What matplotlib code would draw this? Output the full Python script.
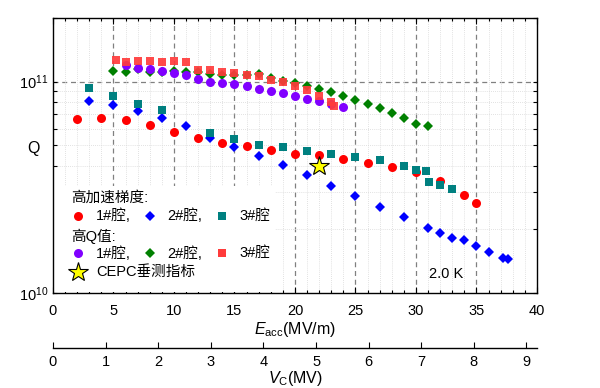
"""Q vs Eacc at 2.0 K for three cavities, high-gradient and high-Q treatments"""
import matplotlib
matplotlib.use("Agg")
import matplotlib.pyplot as plt
from matplotlib.patches import Rectangle
from matplotlib.ticker import MultipleLocator, LogLocator, NullFormatter, FixedLocator

plt.rcParams["font.family"] = ["Liberation Sans", "Noto Sans CJK SC"]
plt.rcParams["mathtext.fontset"] = "custom"
plt.rcParams["mathtext.rm"] = "Liberation Sans"
plt.rcParams["mathtext.it"] = "Liberation Sans:italic"

# high gradient treatment (Eacc in MV/m, Q in units of 1e10)
hg1_e = [2, 4, 6, 8, 10, 12, 14, 16, 18, 20, 22, 24, 26, 28, 30, 32, 34, 35]
hg1_q = [6.67, 6.76, 6.58, 6.25, 5.78, 5.42, 5.13, 4.94, 4.75, 4.57, 4.48, 4.31,
         4.14, 3.96, 3.73, 3.40, 2.90, 2.67]
hg2_e = [3, 5, 7, 9, 11, 13, 15, 17, 19, 21, 23, 25, 27, 29, 31, 32, 33, 34,
         35, 36, 37.2, 37.6]
hg2_q = [8.09, 7.76, 7.28, 6.71, 6.14, 5.41, 4.93, 4.43, 4.02, 3.61, 3.22, 2.87,
         2.55, 2.28, 2.04, 1.92, 1.82, 1.78, 1.67, 1.57, 1.47, 1.45]
hg3_e = [3, 5, 7, 9, 13, 15, 17, 19, 21, 23, 25, 27, 29, 30, 30.8, 31.1, 32, 33]
hg3_q = [9.31, 8.57, 7.86, 7.31, 5.74, 5.38, 5.02, 4.90, 4.69, 4.57, 4.38, 4.24,
         4.01, 3.82, 3.77, 3.35, 3.26, 3.10]

# high Q treatment
hq1_e = [6, 7, 8, 9, 10, 11, 12, 13, 14, 15, 16, 17, 18, 19, 20, 21, 22, 23, 24]
hq1_q = [12.0, 11.6, 11.5, 11.2, 11.0, 10.7, 10.3, 10.0, 9.9, 9.7, 9.5, 9.25,
         9.0, 8.85, 8.53, 8.29, 8.11, 7.80, 7.57]
hq2_e = [5, 6, 7, 8, 9, 10, 11, 12, 13, 14, 15, 16, 17, 18, 19, 20, 21, 22, 23,
         24, 25, 26, 27, 28, 29, 30, 31]
hq2_q = [11.2, 11.1, 11.5, 11.1, 11.1, 11.2, 11.1, 11.1, 10.9, 10.8, 10.7, 10.7,
         10.9, 10.4, 10.1, 9.86, 9.55, 9.25, 8.91, 8.59, 8.20, 7.85, 7.52, 7.08,
         6.71, 6.31, 6.19]
hq3_e = [5.2, 6, 7, 8, 9, 10, 11, 12, 13, 14, 15, 16, 17, 18, 19, 20, 21, 22, 23,
         23.25]
hq3_q = [12.7, 12.4, 12.5, 12.5, 12.4, 12.5, 12.4, 11.4, 11.3, 11.1, 11.0, 10.8,
         10.6, 10.2, 9.95, 9.56, 9.08, 8.57, 8.0, 7.63]

cepc_e = [22]
cepc_q = [4.0]

vc_ticks = [0, 1, 2, 3, 4, 5, 6, 7, 8, 9]
VC_PER_EACC = 0.23  # MV per MV/m

fig = plt.figure(figsize=(6, 3.88), dpi=100)
ax = fig.add_axes([0.0883, 0.2448, 0.8067, 0.7088])

sc = 1e10
ax.plot(hg1_e, [q * sc for q in hg1_q], "o", color="#ff0000", ms=6.5, mew=0, zorder=3)
ax.plot(hg2_e, [q * sc for q in hg2_q], "D", color="#0000ff", ms=5.2, mew=0, zorder=3)
ax.plot(hg3_e, [q * sc for q in hg3_q], "s", color="#008080", ms=6.0, mew=0, zorder=3)
ax.plot(hq2_e, [q * sc for q in hq2_q], "D", color="#008000", ms=5.2, mew=0, zorder=3)
ax.plot(hq1_e, [q * sc for q in hq1_q], "o", color="#8000ff", ms=6.5, mew=0, zorder=3)
ax.plot(hq3_e, [q * sc for q in hq3_q], "s", color="#ff3b3b", ms=6.0, mew=0,
        alpha=0.92, zorder=3)
ax.plot(cepc_e, [q * sc for q in cepc_q], "*", color="#ffff00", mec="black",
        mew=0.8, ms=15, zorder=4)

ax.set_yscale("log")
ax.set_xlim(0, 40)
ax.set_ylim(1e10, 2e11)

ax.xaxis.set_major_locator(MultipleLocator(5))
ax.xaxis.set_minor_locator(MultipleLocator(1))
ax.yaxis.set_major_locator(LogLocator(base=10))
ax.yaxis.set_minor_locator(LogLocator(base=10, subs=range(2, 10)))
ax.yaxis.set_minor_formatter(NullFormatter())
ax.tick_params(which="both", direction="in", top=True, right=True,
               labelsize=10.5, width=0.8)
ax.tick_params(axis="x", which="major", length=4, pad=8)
ax.tick_params(axis="x", which="minor", length=2.5)
ax.tick_params(axis="y", which="both", length=3)
for s in ax.spines.values():
    s.set_linewidth(1.0)

# grids: light dotted minor, dashed grey major
ax.grid(True, which="minor", ls=(0, (1, 1.5)), color="#d8d8d8", lw=0.6, zorder=0)
for xv in range(5, 40, 5):
    ax.axvline(xv, ls=(0, (4, 3)), color="#808080", lw=0.9, zorder=1)
ax.axhline(1e11, ls=(0, (4, 3)), color="#808080", lw=0.9, zorder=1)

ax.set_xlabel(r"$E_{\rm acc}$(MV/m)", fontsize=11.5, labelpad=1)
ax.set_ylabel("Q", fontsize=11.5, rotation=0)
ax.yaxis.set_label_coords(-0.04, 0.50)

ax.text(0.777, 0.069, "2.0 K", transform=ax.transAxes, fontsize=10.5,
        va="center", ha="left", zorder=5)

# legend block drawn by hand
ax.add_patch(Rectangle((0.003, 0.003), 0.455, 0.387, transform=ax.transAxes,
                       facecolor="white", edgecolor="none", zorder=2))
fs = 10.5
ax.text(0.0366, 0.3465, "高加速梯度:", transform=ax.transAxes, fontsize=fs,
        va="center", zorder=5)
ax.text(0.0366, 0.2073, "高Q值:", transform=ax.transAxes, fontsize=fs,
        va="center", zorder=5)
rows = [
    (0.2811, [("o", "#ff0000", 6.5), ("D", "#0000ff", 5.2), ("s", "#008080", 6.0)]),
    (0.1444, [("o", "#8000ff", 6.5), ("D", "#008000", 5.2), ("s", "#ff3b3b", 6.0)]),
]
labels = ["1#腔,", "2#腔,", "3#腔"]
mx = [0.0523, 0.2004, 0.3486]
tx = [0.0888, 0.2362, 0.3849]
for yy, marks in rows:
    for (m, c, ms), x0, x1, lab in zip(marks, mx, tx, labels):
        ax.plot([x0], [yy], m, color=c, ms=ms, mew=0, transform=ax.transAxes,
                clip_on=False, zorder=5)
        ax.text(x1, yy, lab, transform=ax.transAxes, fontsize=fs,
                va="center", zorder=5)
ax.plot([0.0523], [0.0753], "*", color="#ffff00", mec="black", mew=0.8, ms=15,
        transform=ax.transAxes, clip_on=False, zorder=5)
ax.text(0.0888, 0.0753, "CEPC垂测指标", transform=ax.transAxes, fontsize=fs,
        va="center", zorder=5)

# secondary axis: cavity voltage
sec = ax.secondary_xaxis(-0.2, functions=(lambda e: e * VC_PER_EACC,
                                          lambda v: v / VC_PER_EACC))
sec.xaxis.set_major_locator(FixedLocator(vc_ticks))
sec.tick_params(direction="in", length=4, labelsize=10.5, pad=5, width=0.8)
sec.spines["bottom"].set_linewidth(1.0)
sec.set_xlabel(r"$V_{\rm C}$(MV)", fontsize=11.5, labelpad=0)

fig.savefig("out.png", dpi=100)
